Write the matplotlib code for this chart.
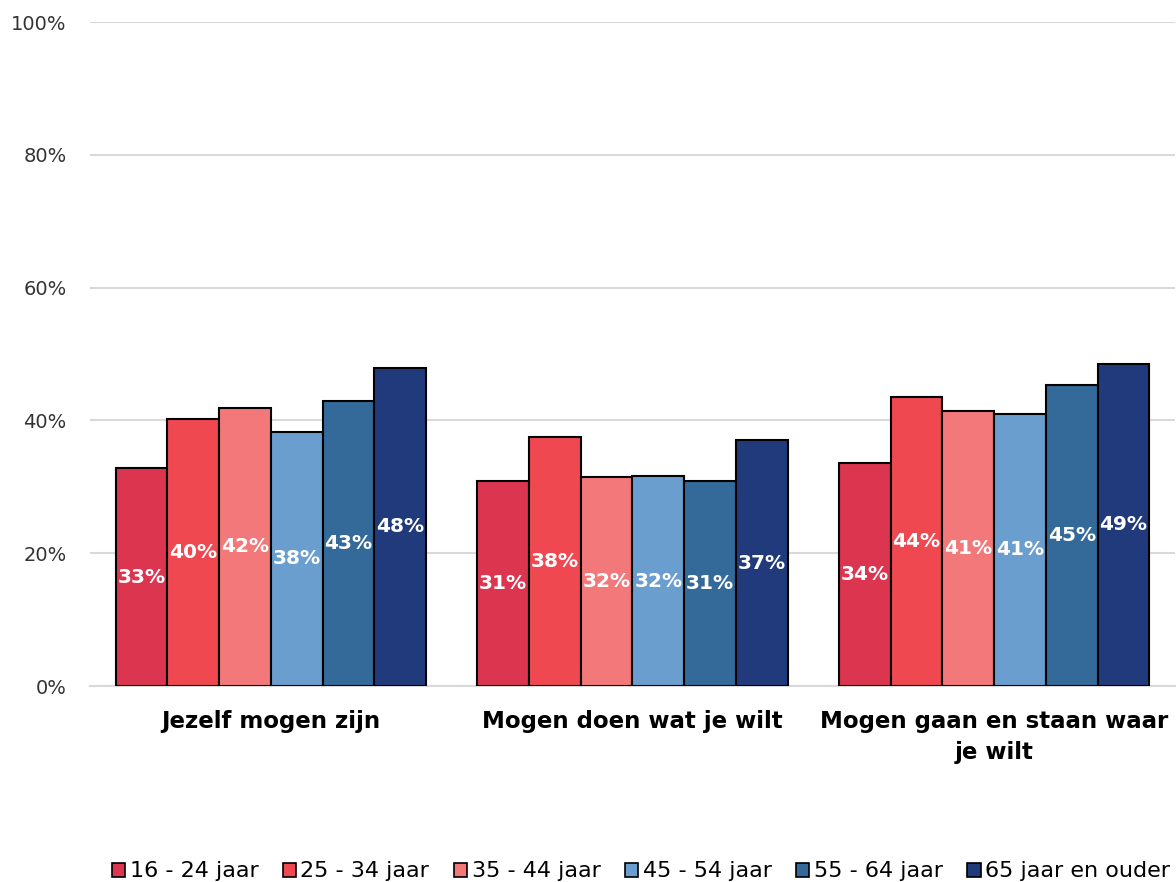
import numpy as np
import matplotlib.pyplot as plt
from matplotlib.patches import Patch

# Data
categories = ['Jezelf mogen zijn', 'Mogen doen wat je wilt', 'Mogen gaan en staan waar\nje wilt']
groups = ['16 - 24 jaar', '25 - 34 jaar', '35 - 44 jaar', '45 - 54 jaar', '55 - 64 jaar', '65 jaar en ouder']
values = [
    [32.8, 30.9, 33.6],
    [40.2, 37.5, 43.5],
    [41.9, 31.5, 41.4],
    [38.3, 31.6, 41.0],
    [42.9, 30.9, 45.3],
    [47.9, 37.0, 48.5],
]
labels = [
    ['33%', '31%', '34%'],
    ['40%', '38%', '44%'],
    ['42%', '32%', '41%'],
    ['38%', '32%', '41%'],
    ['43%', '31%', '45%'],
    ['48%', '37%', '49%'],
]
colors = ['#DC3550', '#EF4850', '#F3787A', '#6A9ECE', '#336A9A', '#203A7C']

plt.rcParams['font.family'] = ['DejaVu Sans']

fig = plt.figure(figsize=(11.76, 8.82), dpi=100)
ax = fig.add_axes([90 / 1176, 1 - 686 / 882, 1085 / 1176, 664 / 882])

x = np.arange(len(categories))
n = len(groups)
bw = 0.858 / n
for i in range(n):
    pos = x - 0.429 + bw * (i + 0.5)
    bars = ax.bar(pos, values[i], width=bw, color=colors[i], edgecolor='black', linewidth=1.5, zorder=3)
    for b, lab in zip(bars, labels[i]):
        ax.text(b.get_x() + b.get_width() / 2, b.get_height() / 2, lab, ha='center', va='center',
                color='white', fontsize=14.5, fontweight='bold', zorder=4)

ax.set_xlim(-0.5, len(categories) - 0.5)
ax.set_ylim(0, 100)
ax.set_yticks([0, 20, 40, 60, 80, 100])
ax.set_yticklabels(['0%', '20%', '40%', '60%', '80%', '100%'], fontsize=14, color='#333333')
ax.yaxis.grid(True, color='#D9D9D9', linewidth=1.5, zorder=0)
ax.tick_params(axis='y', length=0, pad=17)
ax.set_xticks(x)
ax.set_xticklabels(categories, fontsize=16.5, fontweight='bold', linespacing=1.45)
ax.tick_params(axis='x', length=0, pad=17)
for s in ['top', 'right', 'left']:
    ax.spines[s].set_visible(False)
ax.spines['bottom'].set_color('#D9D9D9')
ax.spines['bottom'].set_linewidth(1.5)

handles = [Patch(facecolor=c, edgecolor='black', linewidth=1.2) for c in colors]
fig.legend(handles, groups, loc='lower center', bbox_to_anchor=(0.545, -0.022), ncol=6, frameon=False,
           fontsize=16, handlelength=0.6, handleheight=0.6, handletextpad=0.2, columnspacing=1.1)

fig.savefig('out.png', dpi=100)
